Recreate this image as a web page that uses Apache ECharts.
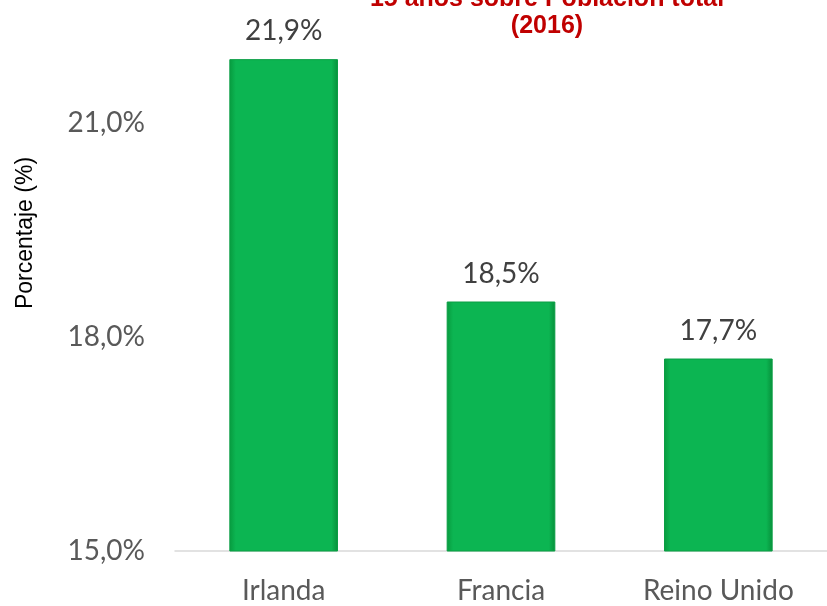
<!DOCTYPE html>
<html>
<head>
<meta charset="utf-8">
<script src="https://cdn.jsdelivr.net/npm/echarts@6/dist/echarts.min.js"></script>
<style>
  html, body { margin: 0; padding: 0; background: #fff; }
  #chart { width: 827px; height: 606px; }
</style>
</head>
<body>
<div id="chart"></div>
<script>
// datos
var paises = ["Irlanda", "Francia", "Reino Unido"];
var porcentajes = [21.9, 18.5, 17.7];
var ticksY = [15, 18, 21];

var tituloLineas = ["Población menor de", "15 años sobre Población total", "(2016)"];

function fmtPct(v) {
    return v.toFixed(1).replace(".", ",") + "%";
}

var chart = echarts.init(document.getElementById("chart"));

var verde = new echarts.graphic.LinearGradient(0, 0, 1, 0, [
    { offset: 0, color: "#079a3e" },
    { offset: 0.06, color: "#0cb552" },
    { offset: 0.94, color: "#0cb552" },
    { offset: 1, color: "#078f3a" }
]);

// titulo: cada linea por separado, la primera queda fuera del lienzo
var titulo = [];
for (var i = 0; i < tituloLineas.length; i++) {
    titulo.push({
        type: "text",
        x: 547,
        y: 26 - (tituloLineas.length - 1 - i) * 27,
        style: {
            text: tituloLineas[i],
            align: "center",
            verticalAlign: "middle",
            fill: "#c00000",
            font: "bold 25px 'Liberation Sans', Arial"
        }
    });
}

var option = {
    animation: false,
    grid: {
        left: 175,
        top: 52,
        width: 666,
        bottom: 55
    },
    xAxis: {
        type: "category",
        data: paises,
        axisLine: { lineStyle: { color: "#d9d9d9", width: 1.5 } },
        axisTick: { show: false },
        axisLabel: {
            color: "#595959",
            fontFamily: "Lato",
            fontSize: 28,
            margin: 26
        }
    },
    yAxis: {
        type: "value",
        min: 15,
        max: 22,
        interval: 3,
        splitLine: { show: false },
        axisLine: { show: false },
        axisTick: { show: false },
        axisLabel: {
            showMaxLabel: false,
            color: "#595959",
            fontFamily: "Lato",
            fontSize: 28,
            margin: 30,
            formatter: function (v) {
                return ticksY.indexOf(v) >= 0 ? fmtPct(v) : "";
            }
        }
    },
    series: [{
        type: "bar",
        data: porcentajes,
        barWidth: "50%",
        itemStyle: {
            color: verde,
            borderColor: "#0a9e45",
            borderWidth: 1
        },
        label: {
            show: true,
            position: "top",
            distance: 14,
            color: "#404040",
            fontFamily: "Lato",
            fontSize: 28,
            formatter: function (p) { return fmtPct(p.value); }
        }
    }],
    graphic: titulo.concat([
        {
            type: "text",
            rotation: Math.PI / 2,
            x: 26,
            y: 233,
            style: {
                text: "Porcentaje (%)",
                align: "center",
                verticalAlign: "middle",
                fill: "#000",
                font: "23px 'Liberation Sans', Arial"
            }
        }
    ])
};

chart.setOption(option);
</script>
</body>
</html>
